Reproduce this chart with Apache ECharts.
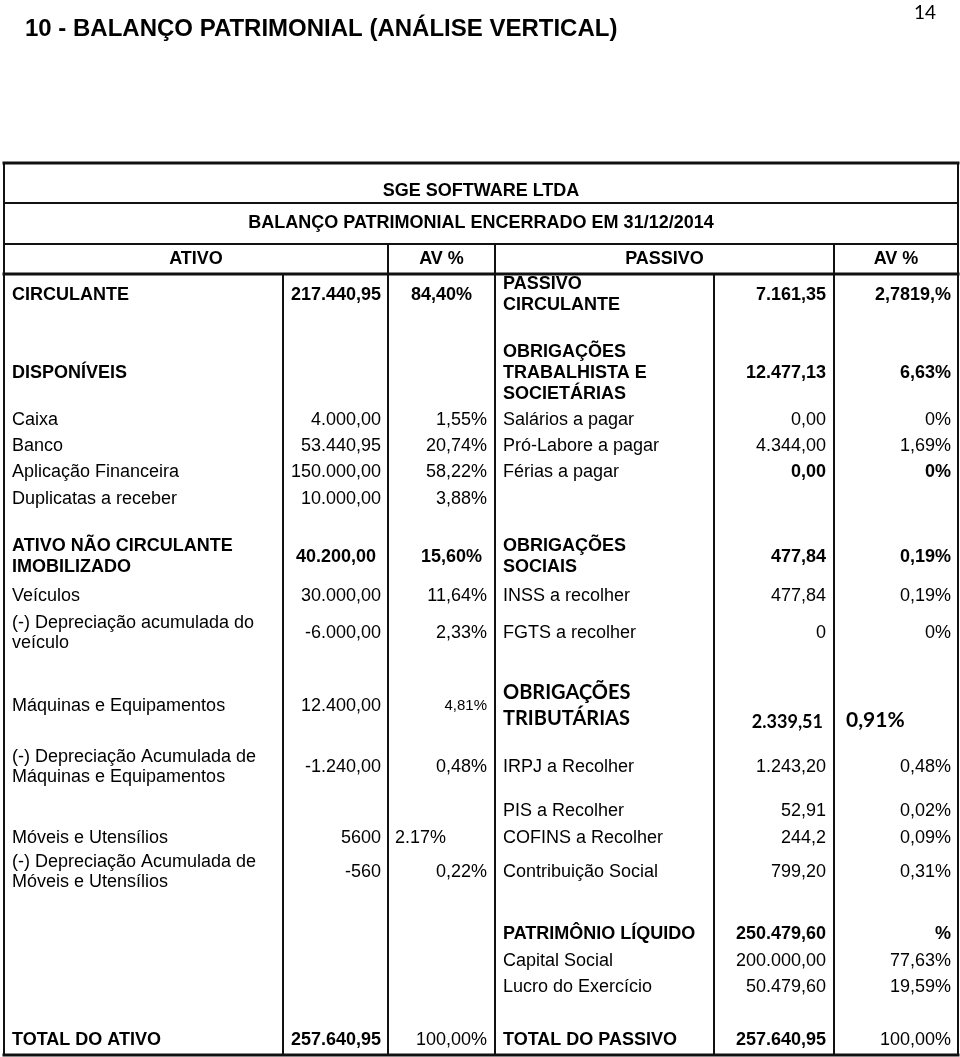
<!DOCTYPE html>
<html>
<head>
<meta charset="utf-8">
<title>Balanço Patrimonial</title>
<script src="https://cdn.jsdelivr.net/npm/echarts@6/dist/echarts.min.js"></script>
<style>
  html, body { margin: 0; padding: 0; background: #fff; }
  #chart { width: 960px; height: 1057px; }
</style>
</head>
<body>
<div id="chart"></div>
<script>
// conteúdo da tabela
const cabecalho = ['SGE SOFTWARE LTDA', 'BALANÇO PATRIMONIAL ENCERRADO EM 31/12/2014']
const colunas = ['ATIVO', 'AV %', 'PASSIVO', 'AV %']

const ativoContas = ['CIRCULANTE', 'DISPONÍVEIS', 'Caixa', 'Banco', 'Aplicação Financeira', 'Duplicatas a receber',
  'ATIVO NÃO CIRCULANTE\nIMOBILIZADO', 'Veículos', '(-) Depreciação acumulada do\nveículo', 'Máquinas e Equipamentos',
  '(-) Depreciação Acumulada de\nMáquinas e Equipamentos', '', 'Móveis e Utensílios',
  '(-) Depreciação Acumulada de\nMóveis e Utensílios', '', '', '', 'TOTAL DO ATIVO']
const ativoValores = ['217.440,95', '', '4.000,00', '53.440,95', '150.000,00', '10.000,00', '40.200,00', '30.000,00',
  '-6.000,00', '12.400,00', '-1.240,00', '', '5600', '-560', '', '', '', '257.640,95']
const ativoAV = ['84,40%', '', '1,55%', '20,74%', '58,22%', '3,88%', '15,60%', '11,64%', '2,33%', '4,81%', '0,48%',
  '', '2.17%', '0,22%', '', '', '', '100,00%']

const passivoContas = ['PASSIVO\nCIRCULANTE', 'OBRIGAÇÕES\nTRABALHISTA E\nSOCIETÁRIAS', 'Salários a pagar',
  'Pró-Labore a pagar', 'Férias a pagar', '', 'OBRIGAÇÕES\nSOCIAIS', 'INSS a recolher', 'FGTS a recolher',
  'OBRIGAÇÕES\nTRIBUTÁRIAS', 'IRPJ a Recolher', 'PIS a Recolher', 'COFINS a Recolher', 'Contribuição Social',
  'PATRIMÔNIO LÍQUIDO', 'Capital Social', 'Lucro do Exercício', 'TOTAL DO PASSIVO']
const passivoValores = ['7.161,35', '12.477,13', '0,00', '4.344,00', '0,00', '', '477,84', '477,84', '0', '2.339,51',
  '1.243,20', '52,91', '244,2', '799,20', '250.479,60', '200.000,00', '50.479,60', '257.640,95']
const passivoAV = ['2,7819,%', '6,63%', '0%', '1,69%', '0%', '', '0,19%', '0,19%', '0%', '0,91%', '0,48%', '0,02%',
  '0,09%', '0,31%', '%', '77,63%', '19,59%', '100,00%']

// layout (px na página)
const colX = [4, 283, 388, 495, 714, 834, 958]
const linhaY = [295, 373, 420, 446, 472, 499, 557, 596, 633, 706, 767, 811, 838, 872, 934, 961, 987, 1040]
const cabecalhoY = [191, 223, 259]
const regrasY = [163, 203, 244, 274]
const baseY = 1055

const arial = '"Liberation Sans", Arial, sans-serif'
const calibri = 'Lato, "Open Sans", sans-serif'
const estilos = {
  n: { fontSize: 18, fontWeight: 'normal', fontFamily: arial, lineHeight: 20 },
  b: { fontSize: 18, fontWeight: 'bold', fontFamily: arial, lineHeight: 21 },
  s: { fontSize: 15, fontWeight: 'normal', fontFamily: arial, lineHeight: 20 },
  c: { fontSize: 20, fontWeight: 'bold', fontFamily: calibri, lineHeight: 26 },
  c1: { fontSize: 21, fontWeight: 'bold', fontFamily: calibri, lineHeight: 22 },
  c2: { fontSize: 18, fontWeight: 'bold', fontFamily: calibri, lineHeight: 20 }
}

const negrito = {
  ativoConta: [0, 1, 6, 17], ativoValor: [0, 6, 17], ativoAV: [0, 6],
  passivoConta: [0, 1, 6, 14, 17], passivoValor: [0, 1, 4, 6, 14, 17], passivoAV: [0, 1, 4, 6, 14]
}

function estiloDe(grupo, i) {
  if (grupo === 'ativoAV' && i === 9) return 's'
  if (grupo === 'passivoConta' && i === 9) return 'c'
  if (grupo === 'passivoAV' && i === 9) return 'c1'
  if (grupo === 'passivoValor' && i === 9) return 'c2'
  return negrito[grupo].indexOf(i) >= 0 ? 'b' : 'n'
}

const celulas = []
function add(texto, x, y, align, estilo) {
  if (texto) celulas.push({ texto: texto, x: x, y: y, align: align, estilo: estilo })
}

cabecalho.forEach(function (t, i) { add(t, (colX[0] + colX[6]) / 2, cabecalhoY[i], 'center', 'b') })
add(colunas[0], (colX[0] + colX[2]) / 2, cabecalhoY[2], 'center', 'b')
add(colunas[1], (colX[2] + colX[3]) / 2, cabecalhoY[2], 'center', 'b')
add(colunas[2], (colX[3] + colX[5]) / 2, cabecalhoY[2], 'center', 'b')
add(colunas[3], (colX[5] + colX[6]) / 2, cabecalhoY[2], 'center', 'b')

linhaY.forEach(function (y, i) {
  add(ativoContas[i], colX[0] + 8, y, 'left', estiloDe('ativoConta', i))
  add(ativoValores[i], colX[2] - (i === 6 ? 12 : 7), y, 'right', estiloDe('ativoValor', i))
  if (i === 0) add(ativoAV[i], (colX[2] + colX[3]) / 2, y, 'center', estiloDe('ativoAV', i))
  else if (i === 12) add(ativoAV[i], colX[2] + 7, y, 'left', estiloDe('ativoAV', i))
  else add(ativoAV[i], colX[3] - (i === 6 ? 13 : 8), y, 'right', estiloDe('ativoAV', i))

  add(passivoContas[i], colX[3] + 8, y, 'left', estiloDe('passivoConta', i))
  add(passivoValores[i], colX[5] - (i === 9 ? 11 : 8), y + (i === 9 ? 16 : 0), 'right', estiloDe('passivoValor', i))
  if (i === 9) add(passivoAV[i], colX[5] + 12, y + 14, 'left', estiloDe('passivoAV', i))
  else add(passivoAV[i], colX[6] - 7, y, 'right', estiloDe('passivoAV', i))
})

// segmentos das linhas da tabela [x1, y1, x2, y2, espessura]
const regras = []
regrasY.forEach(function (y, i) { regras.push([colX[0], y, colX[6], y, i === 0 || i === 3 ? 3 : 2]) })
regras.push([colX[0], baseY, colX[6], baseY, 3])
regras.push([colX[0], regrasY[0], colX[0], baseY, 2])
regras.push([colX[6], regrasY[0], colX[6], baseY, 2])
;[2, 3, 5].forEach(function (c) { regras.push([colX[c], regrasY[2], colX[c], baseY, 2]) })
;[1, 4].forEach(function (c) { regras.push([colX[c], regrasY[3], colX[c], baseY, 2]) })

const chart = echarts.init(document.getElementById('chart'))
chart.setOption({
  backgroundColor: '#fff',
  animation: false,
  title: [{
    text: '10 - BALANÇO PATRIMONIAL (ANÁLISE VERTICAL)',
    left: 20,
    top: 12,
    textStyle: { fontFamily: arial, fontSize: 24, fontWeight: 'bold', color: '#000' }
  }, {
    text: '14',
    right: 19,
    top: -2,
    textStyle: { fontFamily: calibri, fontSize: 19, fontWeight: 'normal', color: '#000' }
  }],
  grid: { left: 0, top: 0, right: 0, bottom: 0 },
  xAxis: { type: 'value', min: 0, max: 960, show: false },
  yAxis: { type: 'value', min: 0, max: 1057, inverse: true, show: false },
  series: [{
    type: 'custom',
    name: 'regras',
    silent: true,
    data: regras,
    renderItem: function (params, api) {
      const a = api.coord([api.value(0), api.value(1)])
      const b = api.coord([api.value(2), api.value(3)])
      return {
        type: 'line',
        shape: { x1: a[0], y1: a[1], x2: b[0], y2: b[1] },
        style: { stroke: '#111', lineWidth: api.value(4), lineCap: 'square' }
      }
    }
  }, {
    type: 'custom',
    name: 'celulas',
    silent: true,
    data: celulas.map(function (c) { return [c.x, c.y] }),
    renderItem: function (params, api) {
      const cel = celulas[params.dataIndex]
      const p = api.coord([api.value(0), api.value(1)])
      const e = estilos[cel.estilo]
      return {
        type: 'text',
        x: p[0],
        y: p[1],
        style: {
          text: cel.texto,
          fill: '#000',
          fontSize: e.fontSize,
          fontWeight: e.fontWeight,
          fontFamily: e.fontFamily,
          lineHeight: e.lineHeight,
          align: cel.align,
          verticalAlign: 'middle'
        }
      }
    }
  }]
})
</script>
</body>
</html>
